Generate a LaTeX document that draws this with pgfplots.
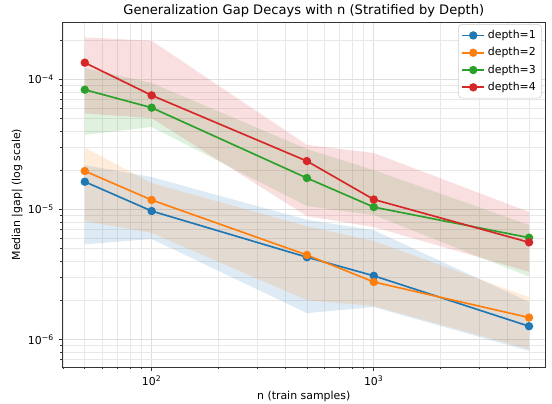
\documentclass[border=0pt]{standalone}
\usepackage{pgfplots}
\pgfplotsset{compat=1.18}
\usepackage{fontspec}
\setmainfont{DejaVu Sans}
\definecolor{cA}{HTML}{1F77B4}
\definecolor{cB}{HTML}{FF7F0E}
\definecolor{cC}{HTML}{2CA02C}
\definecolor{cD}{HTML}{D62728}
\begin{document}
\begin{tikzpicture}
\begin{axis}[
  scale only axis, width=4.825in, height=3.45in,
  xmode=log, ymode=log,
  xmin=39.7, xmax=5900, ymin=6.12e-7, ymax=2.76e-4,
  xtick={100,1000}, xticklabels={10\textsuperscript{2},10\textsuperscript{3}},
  ytick={1e-6,1e-5,1e-4}, yticklabels={10\textsuperscript{−6},10\textsuperscript{−5},10\textsuperscript{−4}},
  minor xtick={40,50,60,70,80,90,200,300,400,500,600,700,800,900,2000,3000,4000,5000},
  minor ytick={7e-7,8e-7,9e-7,2e-6,3e-6,4e-6,5e-6,6e-6,7e-6,8e-6,9e-6,2e-5,3e-5,4e-5,5e-5,6e-5,7e-5,8e-5,9e-5,2e-4},
  grid=both,
  major grid style={black!13, line width=0.5pt},
  minor grid style={black!9, line width=0.5pt},
  axis line style={black!80, line width=0.65pt},
  tick align=outside, tick pos=left,
  major tick length=2.75pt, minor tick length=1.6pt,
  every tick/.style={black!80, line width=0.5pt},
  tick label style={font=\fontsize{7.9}{9.5}\selectfont},
  xlabel={n (train samples)}, ylabel={Median |gap| (log scale)},
  label style={font=\fontsize{7.9}{9.5}\selectfont},
  xlabel style={yshift=3pt},
  ylabel style={yshift=-3pt},
  title={Generalization Gap Decays with n (Stratified by Depth)},
  title style={font=\fontsize{9.45}{11}\selectfont, yshift=-6pt},
  legend style={at={(0.993,0.993)}, anchor=north east, draw=black!20, rounded corners=2pt,
    font=\fontsize{7.9}{9.5}\selectfont, row sep=1pt, inner xsep=2pt, inner ysep=2pt},
  legend image code/.code={\draw[mark repeat=2,mark phase=2] plot coordinates {(0cm,0cm)(0.28cm,0cm)(0.56cm,0cm)};},
  legend cell align=left,
]
\coordinate (bl) at (rel axis cs:0,0);
% bands
\addplot[forget plot, draw=none, fill=cA, fill opacity=0.15] coordinates {
 (50,2.19e-5) (100,1.77e-5) (500,8.3e-6) (1000,6.9e-6) (5000,1.94e-6)
 (5000,8.13e-7) (1000,1.77e-6) (500,1.59e-6) (100,5.91e-6) (50,5.38e-6)};
\addplot[forget plot, draw=none, fill=cB, fill opacity=0.15] coordinates {
 (50,2.98e-5) (100,1.59e-5) (500,7.4e-6) (1000,5.7e-6) (5000,2.11e-6)
 (5000,8.41e-7) (1000,1.80e-6) (500,2.0e-6) (100,6.58e-6) (50,8.13e-6)};
\addplot[forget plot, draw=none, fill=cC, fill opacity=0.15] coordinates {
 (50,1.22e-4) (100,9.37e-5) (500,2.91e-5) (1000,2.0e-5) (5000,7.57e-6)
 (5000,3.03e-6) (1000,9.04e-6) (500,1.06e-5) (100,4.30e-5) (50,3.73e-5)};
\addplot[forget plot, draw=none, fill=cD, fill opacity=0.15] coordinates {
 (50,2.10e-4) (100,1.98e-4) (500,3.13e-5) (1000,2.71e-5) (5000,9.53e-6)
 (5000,3.31e-6) (1000,7.31e-6) (500,8.87e-6) (100,5.03e-5) (50,5.47e-5)};
% lines
\addplot[cA, line width=1.2pt, mark=*, mark size=2.4pt] coordinates {
 (50,1.63e-5) (100,9.7e-6) (500,4.28e-6) (1000,3.08e-6) (5000,1.26e-6)};
\addlegendentry{depth=1}
\addplot[cB, line width=1.2pt, mark=*, mark size=2.4pt] coordinates {
 (50,1.97e-5) (100,1.18e-5) (500,4.45e-6) (1000,2.76e-6) (5000,1.47e-6)};
\addlegendentry{depth=2}
\addplot[cC, line width=1.2pt, mark=*, mark size=2.4pt] coordinates {
 (50,8.32e-5) (100,6.05e-5) (500,1.74e-5) (1000,1.04e-5) (5000,6.05e-6)};
\addlegendentry{depth=3}
\addplot[cD, line width=1.2pt, mark=*, mark size=2.4pt] coordinates {
 (50,1.343e-4) (100,7.53e-5) (500,2.35e-5) (1000,1.19e-5) (5000,5.57e-6)};
\addlegendentry{depth=4}
\end{axis}
\pgfresetboundingbox
\path[use as bounding box] (bl) ++(-0.625in,-0.37in) rectangle ++(5.52in,4.04in);
\end{tikzpicture}
\end{document}
